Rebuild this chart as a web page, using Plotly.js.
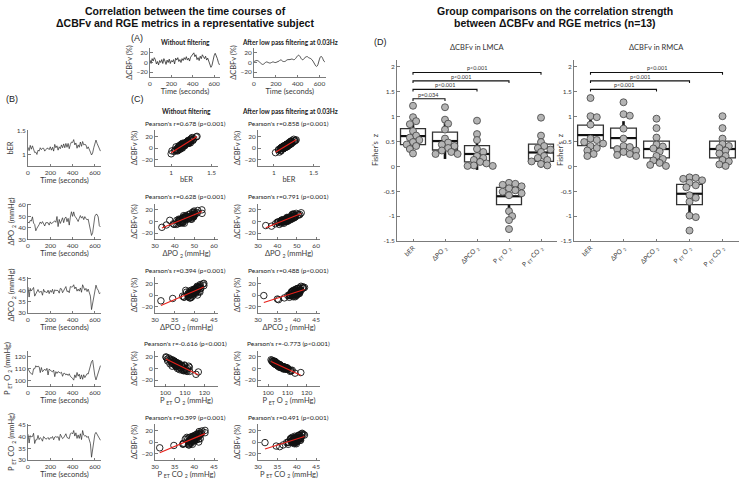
<!DOCTYPE html>
<html><head><meta charset="utf-8">
<script src="https://cdn.plot.ly/plotly-3.0.1.min.js"></script>
<style>body{margin:0;background:#fff}#c{width:740px;height:486px}</style>
</head><body><div id="c"></div>
<script>
// ---------------- DATA ----------------
const timeSec = [0,10,20,30,40,50,60,70,80,90,100,110,120,130,140,150,160,170,180,190,200,210,220,230,240,250,260,270,280,290,300,310,320,330,340,350,360,370,380,390,400,410,420,430,440,450,460,470,480,490,500,510,520,530,540,550,560,570,580,590,600,610,620,630,640,650];
const cbfv = [5,-2,8,3,10,6,-3,2,-5,4,0,6,-2,8,3,-4,5,0,7,-2,4,1,6,-3,9,5,10,2,6,0,8,4,10,6,12,5,9,3,11,14,18,20,12,16,6,10,4,13,8,16,12,8,13,5,9,2,-4,-10,-6,5,14,19,15,8,0,-5];
const cbfvFilt = [2,3,4,4,3,1,-1,-3,-4,-3,-1,1,1,0,-1,-1,0,1,1,0,0,1,2,3,5,5,3,2,2,3,5,6,6,6,7,7,6,6,8,11,14,15,13,9,6,6,8,11,12,12,10,9,8,6,3,-1,-5,-8,-7,-1,7,12,12,8,3,1];
const ber = [1.16,1.09,1.20,1.12,1.19,1.12,1.05,1.06,1.01,1.10,1.08,1.15,1.11,1.14,1.14,1.08,1.12,1.14,1.14,1.11,1.17,1.10,1.16,1.08,1.22,1.15,1.19,1.10,1.17,1.13,1.21,1.15,1.23,1.15,1.24,1.16,1.24,1.13,1.22,1.27,1.26,1.32,1.21,1.25,1.14,1.21,1.16,1.27,1.18,1.28,1.21,1.22,1.21,1.13,1.17,1.09,1.06,1.00,1.04,1.15,1.25,1.31,1.24,1.18,1.11,1.08];
const berFilt = [1.15,1.12,1.17,1.13,1.16,1.10,1.12,1.06,1.09,1.06,1.12,1.10,1.14,1.09,1.12,1.08,1.13,1.10,1.15,1.10,1.13,1.10,1.16,1.13,1.19,1.15,1.17,1.11,1.15,1.12,1.18,1.16,1.20,1.16,1.21,1.17,1.20,1.16,1.22,1.21,1.28,1.25,1.27,1.19,1.20,1.16,1.22,1.21,1.26,1.22,1.24,1.19,1.22,1.16,1.17,1.09,1.09,1.02,1.07,1.09,1.21,1.22,1.26,1.18,1.17,1.11];
const po2 = [45.0,44.2,46.4,45.9,49.5,44.1,42.9,37.5,39.7,42.1,42.8,45.1,43.7,45.4,42.7,41.6,44.5,44.3,44.4,42.4,45.2,43.6,44.3,44.9,46.0,44.8,49.8,41.1,47.3,43.8,45.7,48.7,44.5,48.3,49.4,45.3,48.2,42.4,49.3,53.9,49.9,53.8,49.9,49.1,47.3,45.5,48.2,50.6,48.4,49.8,47.1,49.7,47.9,47.0,47.5,42.4,39.3,33.5,35.8,43.8,50.0,51.7,51.5,49.4,41.8,40.8];
const po2Filt = [45.1,43.7,47.2,45.2,42.7,44.6,41.5,43.4,39.0,42.0,40.5,43.6,45.6,42.0,43.5,40.5,44.0,43.6,42.6,45.0,42.0,44.6,42.1,44.7,46.8,44.8,46.7,42.1,44.1,45.7,44.8,48.3,45.3,46.3,48.9,44.9,47.3,45.3,47.4,51.0,49.7,52.3,48.2,49.0,46.3,45.3,49.4,48.0,50.6,47.6,48.5,49.0,46.4,48.3,43.7,42.5,41.0,37.0,34.0,40.0,47.9,48.6,51.6,47.4,43.7,44.6];
const pco2 = [41.4,37.0,40.8,39.7,40.4,41.2,37.4,38.4,39.0,40.3,39.1,39.3,39.5,37.8,40.4,39.2,39.3,38.9,40.0,38.5,39.9,39.1,40.4,38.4,40.2,39.8,40.0,39.8,38.7,40.8,40.6,38.9,39.9,40.2,41.6,39.4,39.7,38.9,41.6,41.4,41.5,42.4,40.6,41.4,39.6,40.5,39.6,41.0,39.1,42.4,41.0,40.0,40.8,39.4,40.5,38.4,37.4,31.5,34.5,38.0,40.8,42.2,40.7,40.0,38.5,38.8];
const pco2Filt = [40.1,39.0,39.9,38.6,40.7,39.2,38.1,39.1,38.1,39.6,37.7,39.6,39.2,38.4,39.8,38.5,40.1,38.2,39.4,39.7,38.1,39.7,39.1,40.5,38.7,40.1,40.1,38.6,39.3,40.7,39.3,40.3,38.9,40.7,39.8,40.7,38.7,40.1,41.1,40.1,41.6,41.1,42.0,39.6,40.2,38.9,40.9,40.3,40.9,41.7,39.8,40.8,39.1,40.5,39.3,38.9,36.8,35.3,35.0,31.5,40.6,40.5,41.6,39.6,39.7,38.8];
const peto2 = [109.6,107.3,106.4,105.7,105.0,109.8,109.8,112.3,111.2,112.0,111.4,106.6,110.8,107.3,108.6,109.5,108.3,110.2,104.6,109.6,108.5,107.7,107.2,108.7,103.2,107.4,105.9,107.4,106.4,106.2,106.9,103.5,105.9,106.0,104.6,105.5,104.2,105.6,103.4,102.7,101.8,100.3,104.7,102.4,106.7,103.6,105.3,101.2,104.7,101.0,104.8,102.4,104.5,105.7,105.4,109.1,110.8,115.7,116.9,108.4,103.9,100.5,103.5,106.3,107.9,112.4];
const peto2Filt = [109,107.5,105.5,106,107.5,109.5,109.5,111.5,112,112.5,110.5,108.5,109.5,109,108,110,108.5,109,107,109,108,108.5,106.5,108,105,106.5,107.5,106,108,105.5,106.5,104.5,106,105,106,104,106,104.5,103.5,104,102,101.5,103,104.5,106,104.5,103.5,102.5,103.5,102,104,103,105,104.5,107.5,109,111.5,114,117,110,104,102.5,103.5,105,108,110];
const petco2 = [41.1,37.3,40.5,40.0,40.1,41.5,37.1,38.7,38.7,40.6,38.8,39.6,39.2,38.1,40.1,39.5,39.0,39.2,39.7,38.8,39.6,39.4,40.1,38.7,39.9,40.1,39.7,40.1,38.4,41.1,40.3,39.2,39.6,40.5,41.3,39.7,39.4,39.2,41.3,41.7,41.2,42.7,40.3,41.7,39.3,40.8,39.3,41.3,38.8,42.7,40.7,40.3,40.5,39.7,40.2,38.7,37.1,31.2,34.8,37.7,41.1,41.9,41.0,39.7,38.8,38.5];
const petco2Filt = [39.8,39.3,39.6,38.9,40.4,39.5,37.8,39.4,37.8,39.9,37.4,39.9,38.9,38.7,39.5,38.8,39.8,38.5,39.1,40.0,37.8,40.0,38.8,40.8,38.4,40.4,39.8,38.9,39.0,41.0,39.0,40.6,38.6,41.0,39.5,41.0,38.4,40.4,40.8,40.4,41.3,41.4,41.7,39.9,39.9,39.2,40.6,40.6,40.6,42.0,39.5,41.1,38.8,40.8,39.0,39.2,36.5,35.6,34.7,31.8,40.3,40.8,41.3,39.9,39.4,39.1];

const pearsonUnfilt = ["0.678","0.628","0.394","-0.616","0.399"];
const pearsonFilt = ["0.858","0.791","0.488","-0.773","0.491"];

// Panel D: Fisher's z per subject (n=13)
const categories = ["bER","ΔPO <sub>2</sub>","ΔPCO <sub>2</sub>","P <sub>ET</sub> O <sub>2</sub>","P <sub>ET</sub> CO <sub>2</sub>"];
const lmcaBER = [1.22,0.99,0.91,0.85,0.71,0.62,0.58,0.53,0.49,0.44,0.41,0.35,0.26];
const lmcaPO2 = [1.19,0.94,0.86,0.74,0.56,0.48,0.44,0.41,0.37,0.32,0.29,0.25,0.25];
const lmcaPCO2 = [0.92,0.65,0.53,0.35,0.29,0.21,0.17,0.13,0.09,0.06,0.02,0.01,0.01];
const lmcaPETO2 = [-0.33,-0.35,-0.37,-0.40,-0.44,-0.48,-0.51,-0.54,-0.58,-0.90,-1.00,-1.08,-1.26];
const lmcaPETCO2 = [0.98,0.62,0.49,0.41,0.37,0.34,0.29,0.21,0.17,0.13,0.10,0.05,0.02];
const lmcaMean = [0.61,0.51,0.25,-0.60,0.28];
const lmcaBoxLow = [0.44,0.33,0.09,-0.77,0.10];
const lmcaBoxHigh = [0.76,0.69,0.42,-0.42,0.45];
const lmcaSdLow = [0.35,0.15,-0.07,-0.90,-0.02];
const lmcaSdHigh = [0.87,0.87,0.56,-0.30,0.58];

const rmcaBER = [1.375,1.01,0.99,0.84,0.56,0.53,0.49,0.46,0.41,0.37,0.32,0.25,0.21];
const rmcaPO2 = [1.29,1.05,1.02,0.76,0.56,0.41,0.39,0.35,0.32,0.29,0.25,0.23,0.21];
const rmcaPCO2 = [0.96,0.77,0.58,0.44,0.40,0.36,0.30,0.21,0.15,0.12,0.07,0.03,0.01];
const rmcaPETO2 = [-0.22,-0.23,-0.25,-0.28,-0.33,-0.38,-0.42,-0.58,-0.63,-0.71,-0.99,-1.02,-1.29];
const rmcaPETCO2 = [1.01,0.77,0.56,0.45,0.41,0.37,0.32,0.26,0.21,0.13,0.10,0.04,0.01];
const rmcaMean = [0.63,0.57,0.35,-0.55,0.35];
const rmcaBoxLow = [0.42,0.37,0.17,-0.77,0.17];
const rmcaBoxHigh = [0.83,0.77,0.51,-0.36,0.51];
const rmcaSdLow = [0.32,0.23,0.06,-0.93,0.07];
const rmcaSdHigh = [0.94,0.91,0.64,-0.20,0.63];

const lmcaSigTo = [2,3,4,5];
const lmcaSigY = [1.36,1.55,1.72,1.89];
const lmcaSigText = ["p=0.034","p<0.001","p<0.001","p<0.001"];
const rmcaSigTo = [3,4,5];
const rmcaSigY = [1.55,1.72,1.89];
const rmcaSigText = ["p<0.001","p<0.001","p<0.001"];

// ---------------- LAYOUT HELPERS ----------------
const W=740,H=486;
const FONT='Lato, "Open Sans", sans-serif';
const AX='#5a5a5a', TXT='#3a3a3a';
function xd(a,b){return [a/W,b/W];}
function yd(t,b){return [1-b/H,1-t/H];}
function axis(dom, range, tickvals, title, anchor, extra){
  const o = {domain:dom, range:range, tickvals:tickvals, anchor:anchor,
    showline:true, linecolor:AX, linewidth:0.8, mirror:false,
    ticks:'inside', ticklen:2.5, tickcolor:AX, tickwidth:0.8,
    showgrid:false, zeroline:false, automargin:false,
    tickfont:{family:FONT,size:6.5,color:TXT},
    title:{text:title, font:{family:FONT,size:7.5,color:TXT}, standoff:2}};
  return Object.assign(o, extra||{});
}
function ann(text,x,y,size,opts){
  return Object.assign({text:text,x:x/W,y:1-y/H,xref:'paper',yref:'paper',showarrow:false,
    xanchor:'center',yanchor:'middle',font:{family:FONT,size:size,color:'#222'}},opts||{});
}
function fit(x,y){
  const n=x.length; let mx=0,my=0; for(let i=0;i<n;i++){mx+=x[i];my+=y[i];} mx/=n; my/=n;
  let sxy=0,sxx=0; for(let i=0;i<n;i++){sxy+=(x[i]-mx)*(y[i]-my); sxx+=(x[i]-mx)**2;}
  const b=sxy/sxx, a=my-b*mx, x0=Math.min(...x), x1=Math.max(...x);
  return {x:[x0,x1], y:[a+b*x0,a+b*x1]};
}
function swarm(vals, c, ux, uy, d){
  const idx = vals.map((v,i)=>i).sort((a,b)=>vals[b]-vals[a]);
  const placed=[], xs=new Array(vals.length);
  for(const i of idx){
    const yp=vals[i]*uy; let k=0, off=0;
    while(true){
      off=(k===0?0:(k%2?1:-1)*Math.ceil(k/2))*d*0.45;
      if(placed.every(p=>Math.hypot(p[0]-off,p[1]-yp)>=d*0.72)) break; k++;
    }
    placed.push([off,yp]); xs[i]=c+off/ux;
  }
  return xs;
}

const traces=[], layout={width:W,height:H,margin:{l:0,r:0,t:0,b:0},showlegend:false,
  paper_bgcolor:'#fff',plot_bgcolor:'#fff',annotations:[],shapes:[]};
const A=layout.annotations, S=layout.shapes;
const lineCol='#2a2a2a';

// ---- Panel A ----
const aY=[48,77];
layout.xaxis = axis(xd(150,220),[0,655],[0,200,400,600],'Time (seconds)','y');
layout.yaxis = axis(yd(aY[0],aY[1]),[-30,30],[-20,0,20],'ΔCBFv (%)','x');
layout.xaxis2 = axis(xd(254,325.5),[0,655],[0,200,400,600],'Time (seconds)','y2');
layout.yaxis2 = axis(yd(aY[0],aY[1]),[-30,30],[-20,0,20],'ΔCBFv (%)','x2');
traces.push({x:timeSec,y:cbfv,xaxis:'x',yaxis:'y',mode:'lines',line:{color:lineCol,width:0.8}});
traces.push({x:timeSec,y:cbfvFilt,xaxis:'x2',yaxis:'y2',mode:'lines',line:{color:lineCol,width:0.8,shape:'spline'}});

// ---- Panel B and C ----
const rowTop=[130,203.5,277,350.5,424], rowH=36;
const metrics=[ber,po2,pco2,peto2,petco2];
const metricsF=[berFilt,po2Filt,pco2Filt,peto2Filt,petco2Filt];
const yLabels=['bER','ΔPO <sub>2</sub> (mmHg)','ΔPCO <sub>2</sub> (mmHg)','P <sub>ET</sub> O <sub>2</sub> (mmHg)','P <sub>ET</sub> CO <sub>2</sub> (mmHg)'];
const bRanges=[[0.77,1.52],[30,61],[30,45.8],[95,125],[30,45.5]];
const bTicks=[[1,1.5],[30,40,50,60],[30,35,40,45],[100,110,120],[30,35,40,45]];
const cRanges=[[0.8,1.58],[30,62],[30,46],[94.7,127],[30,46]];
const cTicks=[[1,1.5],[30,40,50,60],[30,35,40,45],[100,110,120],[30,35,40,45]];
for(let r=0;r<5;r++){
  const t=rowTop[r], b=t+rowH;
  // B
  let n=3+r;
  layout['xaxis'+n]=axis(xd(28,101),[0,655],[0,200,400,600],'Time (seconds)','y'+n);
  layout['yaxis'+n]=axis(yd(t,b),bRanges[r],bTicks[r],yLabels[r],'x'+n);
  traces.push({x:timeSec,y:metrics[r],xaxis:'x'+n,yaxis:'y'+n,mode:'lines',line:{color:lineCol,width:0.7}});
  // C left (unfiltered)
  n=8+r;
  layout['xaxis'+n]=axis(xd(155,218),cRanges[r],cTicks[r],yLabels[r],'y'+n);
  layout['yaxis'+n]=axis(yd(t,b),[-31,31],[-20,0,20],'ΔCBFv (%)','x'+n);
  traces.push({x:metrics[r],y:cbfv,xaxis:'x'+n,yaxis:'y'+n,mode:'markers',
    marker:{symbol:'circle-open',size:6.5,color:'#111',line:{width:0.9}}});
  let f=fit(metrics[r],cbfv);
  traces.push({x:f.x,y:f.y,xaxis:'x'+n,yaxis:'y'+n,mode:'lines',line:{color:'#e8201a',width:1.1}});
  A.push(ann("Pearson's r="+pearsonUnfilt[r]+" (p<0.001)",185,t-7,6.5));
  // C right (filtered)
  n=13+r;
  layout['xaxis'+n]=axis(xd(258,320),cRanges[r],cTicks[r],yLabels[r],'y'+n);
  layout['yaxis'+n]=axis(yd(t,b),[-31,31],[-20,0,20],'ΔCBFv (%)','x'+n);
  traces.push({x:metricsF[r],y:cbfvFilt,xaxis:'x'+n,yaxis:'y'+n,mode:'markers',
    marker:{symbol:'circle-open',size:6.5,color:'#111',line:{width:0.9}}});
  f=fit(metricsF[r],cbfvFilt);
  traces.push({x:f.x,y:f.y,xaxis:'x'+n,yaxis:'y'+n,mode:'lines',line:{color:'#e8201a',width:1.1}});
  A.push(ann("Pearson's r="+pearsonFilt[r]+" (p<0.001)",288,t-7,6.5));
}

// ---- Panel D ----
const dY=[60,241], dRange=[-1.5,2.14];
const groups=[
  {n:18,xr:[397,557],ylab:375,vals:[lmcaBER,lmcaPO2,lmcaPCO2,lmcaPETO2,lmcaPETCO2],mean:lmcaMean,bl:lmcaBoxLow,bh:lmcaBoxHigh,sl:lmcaSdLow,sh:lmcaSdHigh,
   sigTo:lmcaSigTo,sigY:lmcaSigY,sigT:lmcaSigText,title:'ΔCBFv in LMCA'},
  {n:19,xr:[574,739],ylab:560,vals:[rmcaBER,rmcaPO2,rmcaPCO2,rmcaPETO2,rmcaPETCO2],mean:rmcaMean,bl:rmcaBoxLow,bh:rmcaBoxHigh,sl:rmcaSdLow,sh:rmcaSdHigh,
   sigTo:rmcaSigTo,sigY:rmcaSigY,sigT:rmcaSigText,title:'ΔCBFv in RMCA'}];
for(const g of groups){
  const xa='x'+g.n, ya='y'+g.n;
  layout['xaxis'+g.n]=axis(xd(g.xr[0],g.xr[1]),[0.5,5.5],[1,2,3,4,5],'',ya,
    {ticktext:categories,tickangle:-45,tickfont:{family:FONT,size:6.5,color:TXT}});
  layout['yaxis'+g.n]=axis(yd(dY[0],dY[1]),dRange,[-1.5,-1,-0.5,0,0.5,1,1.5,2],'',xa,
    {ticktext:['-1.5','-1','-0.5','0','0.5','1','1.5','2']});
  A.push(ann("Fisher's  z",g.ylab,150,7.5,{textangle:-90,font:{family:FONT,size:7.5,color:TXT}}));
  const ux=(g.xr[1]-g.xr[0])/5, uy=(dY[1]-dY[0])/(dRange[1]-dRange[0]);
  for(let i=0;i<5;i++){
    const c=i+1;
    S.push({type:'line',xref:xa,yref:ya,x0:c,x1:c,y0:g.sl[i],y1:g.sh[i],line:{color:'#111',width:2.6},layer:'below'});
    S.push({type:'rect',xref:xa,yref:ya,x0:c-0.39,x1:c+0.39,y0:g.bl[i],y1:g.bh[i],fillcolor:'#fff',line:{color:'#333',width:1.3},layer:'below'});
    S.push({type:'line',xref:xa,yref:ya,x0:c-0.39,x1:c+0.39,y0:g.mean[i],y1:g.mean[i],line:{color:'#111',width:2.2},layer:'below'});
    traces.push({x:swarm(g.vals[i],c,ux,uy,7),y:g.vals[i],xaxis:xa,yaxis:ya,mode:'markers',
      marker:{size:7,color:'#b4b4b4',line:{color:'#404040',width:0.8}}});
  }
  for(let k=0;k<g.sigTo.length;k++){
    const y=g.sigY[k], x1=g.sigTo[k];
    S.push({type:'path',xref:xa,yref:ya,path:`M1,${y-0.045} L1,${y} L${x1},${y} L${x1},${y-0.045}`,line:{color:'#111',width:1.1}});
    A.push({text:g.sigT[k],x:(1+x1)/2,y:y,xref:xa,yref:ya,showarrow:false,yanchor:'bottom',yshift:-1,
      font:{family:FONT,size:5.5,color:'#333'}});
  }
  A.push(ann(g.title,(g.xr[0]+g.xr[1])/2,47,7.5,{font:{family:FONT,size:7.5,color:'#333'}}));
}

// ---- Titles & labels ----
const TF='"Liberation Sans", Arial, sans-serif';
A.push(ann('<b>Correlation between the time courses of</b>',185,11,10.5,{font:{family:TF,size:10.5,color:'#111'}}));
A.push(ann('<b>ΔCBFv and RGE metrics in a representative subject</b>',185,23,10.5,{font:{family:TF,size:10.5,color:'#111'}}));
A.push(ann('<b>Group comparisons on the correlation strength</b>',555,11,10.5,{font:{family:TF,size:10.5,color:'#111'}}));
A.push(ann('<b>between ΔCBFv and RGE metrics (n=13)</b>',555,23,10.5,{font:{family:TF,size:10.5,color:'#111'}}));
const PL={family:TF,size:9,color:'#222'};
A.push(ann('(A)',129,38,9,{xanchor:'left',font:PL}));
A.push(ann('(B)',4,99,9,{xanchor:'left',font:PL}));
A.push(ann('(C)',129,99,9,{xanchor:'left',font:PL}));
A.push(ann('(D)',372,42,9,{xanchor:'left',font:PL}));
const HF={family:FONT,size:6.5,color:'#222'};
A.push(ann('<b>Without filtering</b>',185,43,6.5,{font:HF}));
A.push(ann('<b>After low pass filtering at 0.03Hz</b>',290,43,6.5,{font:HF}));
A.push(ann('<b>Without filtering</b>',186,111,6.5,{font:HF}));
A.push(ann('<b>After low pass filtering at 0.03Hz</b>',290,111,6.5,{font:HF}));

Plotly.newPlot('c',traces,layout,{staticPlot:true});
</script></body></html>
